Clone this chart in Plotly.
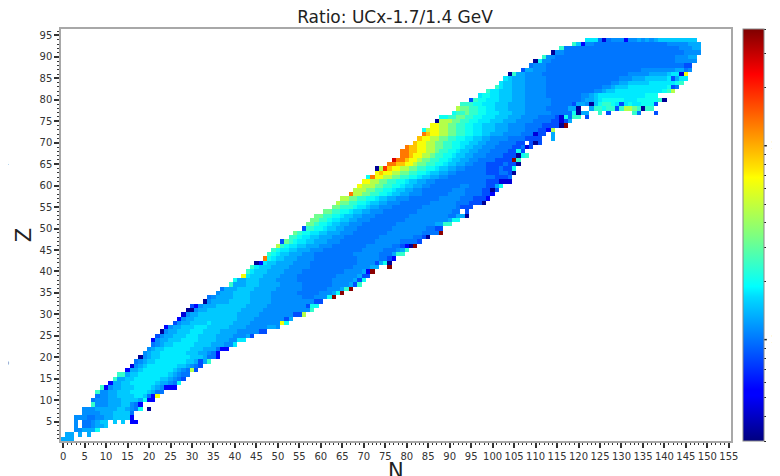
import math
import numpy as np
import plotly.graph_objects as go

TITLE = "Ratio: UCx-1.7/1.4 GeV"
X_LABEL = "N"
Y_LABEL = "Z"
N_COUNT = 156
Z_COUNT = 96
COLOR_MIN = 0.3
COLOR_MAX = 40.0
COLORBAR_LABELED = {1: "10\u2070", 10: "10\u00b9"}
COLORBAR_UNLABELED = [0.3, 0.4, 0.5, 0.6, 0.7, 0.8, 0.9, 2, 3, 4, 5, 6, 7, 8, 9, 20, 30, 40]

# One character per cell: key into LEVEL_KEYS, blank = no data.
LEVEL_KEYS = "0123456789abcdefghi"
LEVEL_RATIOS = [0.33, 0.44, 0.56, 0.82, 1.0, 1.13, 1.3, 1.52, 1.75, 2.0, 2.4,
                3.2, 4.6, 6.6, 9.0, 13.0, 18.5, 27.0, 38.0]

# First N of each row, Z = 1, 2, 3 ...
ROW_START = [0, 1, 3, 3, 3, 3, 5, 5, 7, 7, 8, 8, 9, 11, 12, 13, 15, 16, 17, 18, 19, 20, 21, 21,
             22, 23, 24, 26, 27, 28, 29, 30, 33, 34, 36, 37, 39, 40, 42, 43, 44, 45, 47, 48, 49, 50,
             51, 53, 54, 56, 57, 58, 59, 61, 63, 64, 65, 67, 68, 69, 70, 71, 73, 73, 76, 77, 79, 79,
             80, 82, 83, 84, 84, 86, 87, 88, 91, 92, 93, 95, 97, 99, 101, 102, 103, 104, 107, 109,
             110, 112, 114, 116, 119, 122]

ROW_CELLS = [
    "666",
    "66 6 6",
    "556669",
    "5 445667",
    "5 445677 7 7 22",
    "55544556677772",
    "555566677774",
    "5556666677654" + "9 0",
    "a55566677542",
    "455566677776922",
    "45566777788742d",
    "a556677788887644",
    "a25667778888765222",
    "26677888888766549",
    "a6677888888776543",
    "aa677888888876544",
    "26678888888765" + "4c3",
    "15678888888776543",
    "45677888888877636aa"[:18],
    "0567788888887776442",
    "567788888877766542",
    "5677888888777666422",
    "45677888887777666558",
    "2566777888877776665588",
    "35667778887777666655563",
    "0566777888777766665555533",
    "256677788877777666655555665",
    "3566777787777766665555555d9",
    "256677777777776666555555536",
    "15667777777776666655555555" + "33c",
    "00566777777776666655555555555a",
    "325666777777766666555555555399",
    "0566667777766666555555555533",
    "45666677776666655555554445559i",
    "56667777666665555554444455569i",
    "46667777666665555554444445556ai",
    "a66677766666555554444444555563a",
    "9667776666555554444444455555639",
    "d87776666555544444444455555633",
    "a87776666555544444444445555" + "62i",
    "a87776666555554444444444555566" + "  i",
    "02877666655554444444444455553690",
    "f987766655554444444444555554432",
    "a98776665554444444445555554446aa",
    "a98877666555444444444" + "55555" + "444" + "56a",
    "ca988776665554444444455555544320i",
    "3ba988776665554444444455555544443",
    "aa9887766655544444444555555554430",
    "ba99887766655544444444555555554444i",
    "3aa99877665554444444455555555 4433".replace(" ", ""),
    "bba99877665554444444455555555566aa"[:34],
    "bbaa9887766555444444445555555555699",
    "bbaa99877665554444444455555555544660",
    "bbaa99877665554444444455555555" + "44 3",
    "bbaaa98876655544444445555555" + "54333",
    "cbbaa998776655544444445555554443330",
    "ccbbaa99877665554444444555554443332",
    "fccbbaa998776655544444455554444332",
    "cccbbaa998776655444444455544443303",
    "dcccbbaa998776655444444455444433 69".replace(" ", ""),
    "ddccbbaa998776655444444444444333111",
    "9fddccbbaa998776655444444444443334",
    "dedd" + "ccbbaa9987766" + "55" + "4444444" + "333" + "44" + "30",
    "0cgedd" + "ccbbaa9987766"[:13] + "55" + "44444" + "333" + "4" + "33" + "9",
    "ffeeddcbbaa9987766" + "55" + "444" + "3333" + "4" + "33" + "0",
    "hffeddcbbaa9987766" + "55" + "4444" + "3333" + "ia",
    "ffeddccbaa9987766" + "555" + "4444" + "333" + "09a",
    "ffeeddccbaa9987766" + "555" + "4444" + "33" + "93",
    "feeddccbbaa9987766" + "555" + "4444" + "33" + "413",
    "eddccbbaa99887766" + "555" + "4444" + "33" + " 303",
    "eddccbbaa99887766" + "5555" + "4444" + "3333" + "  6",
    "feddccbbaa99887766" + "6" + "5555" + "444" + "133" + " 6",
    "9cddccbbaa9988777666" + "5555" + "444" + "33" + "2c",
    "ddccbbaa9988777666" + "5555" + "4444" + "3333" + "0i",
    "0cccbbaa99888777666" + "5555" + "4444" + "33" + "136",
    "99aabbaa998887776665555" + "4444" + "319" + "4aa 3",
    "9aabaa998887776665" + "55555" + "44444" + "9" + "066  a 3     a4   3",
    "cbbaa99887776666" + "55555" + "44444" + "660" + "  " + "6aa9aa3accba0aa",
    "aaa998887776666" + "555555" + "44444" + "36650" + "79aa98389889993",
    "3a998887776665" + "55555" + "4444444" + "566789999988899999a0",
    "89988777666" + "55555" + "4444444" + "4556788888888888999"[:19],
    "a8877766655555" + "444444444" + "445567788888888888" + "9ac",
    "a8776665555544444444444" + "445567778888888889" + "34",
    "87766655555" + "44444444444" + "44445566777778888889a",
    "8766655555" + "444444444444" + "444445556667777783688",
    "0a665555" + "444444444444444" + "444445555566667881d",
    "366555" + "4444444444444444" + "444444555555556645",
    "4555" + "444444444444444444" + "4444444444444433",
    "09554444444444444444444444444444455555",
    "a55444444444444444444444444444455566",
    "0554444444444444444444444444444555566"[:35],
    "a44444444444444444444444444455566"[:33],
    "a72554444444444444444455555666",
    "88841455525565656" + "777777777",
]

keys = {k: r for k, r in zip(LEVEL_KEYS, LEVEL_RATIOS)}
grid = np.full((Z_COUNT, N_COUNT), np.nan)
for row, (first, cells) in enumerate(zip(ROW_START, ROW_CELLS)):
    for offset, ch in enumerate(cells):
        if ch != " ":
            grid[row, first + offset] = math.log10(keys[ch])

JET = [[0.0, "#00007f"], [0.11, "#0000ff"], [0.125, "#0000ff"], [0.35, "#00dbff"], [0.375, "#00ffff"],
       [0.5, "#7fff7f"], [0.64, "#ffff00"], [0.66, "#ffe600"], [0.89, "#ff0000"], [0.91, "#e80000"], [1.0, "#7f0000"]]

zmin, zmax = math.log10(COLOR_MIN), math.log10(COLOR_MAX)
tickvals = [math.log10(v) for v in COLORBAR_UNLABELED] + [math.log10(float(v)) for v in COLORBAR_LABELED]
ticktext = [""] * len(tickvals)

fig = go.Figure(go.Heatmap(
    x=list(range(N_COUNT)), y=list(range(1, Z_COUNT + 1)), z=grid,
    colorscale=JET, zmin=zmin, zmax=zmax, hoverongaps=False,
    colorbar=dict(x=1.018, xanchor="left", xpad=0, ypad=0, y=0.5, len=1, lenmode="fraction",
                  thickness=21, outlinecolor="#888", outlinewidth=1,
                  tickmode="array", tickvals=tickvals, ticktext=ticktext,
                  ticks="outside", ticklen=2, tickcolor="#222", tickwidth=1,
                  tickfont=dict(family="DejaVu Sans", size=10, color="#333")),
))

colorbar_notes = []
for v, label in COLORBAR_LABELED.items():
    ypos = (math.log10(v) - zmin) / (zmax - zmin)
    fig.add_shape(type="line", xref="paper", yref="paper", x0=1.0478, x1=1.0535, y0=ypos, y1=ypos,
                  line=dict(color="#222", width=1.5))
    colorbar_notes.append(dict(text=label, xref="paper", yref="paper", x=(772 - 61) / 670, y=ypos,
                               xanchor="left", yanchor="middle", xshift=-3, showarrow=False,
                               font=dict(family="DejaVu Sans", size=10, color="#333")))

axis_common = dict(
    showgrid=False, zeroline=False, showline=True, mirror=True, linecolor="#a8a8a8", linewidth=1.5,
    ticks="outside", ticklen=5, tickwidth=1.5, tickcolor="#333", tick0=0, dtick=5,
    tickfont=dict(family="DejaVu Sans", size=10, color="#333"),
    minor=dict(ticks="outside", ticklen=2.5, tickwidth=1, tickcolor="#333", tick0=0, dtick=1, showgrid=False),
)

# The page adds an 8 px body margin: the figure is 8 px smaller so the page does not scroll.
fig.update_layout(
    width=772, height=468, autosize=False,
    margin=dict(l=53, r=49, t=21, b=35, autoexpand=False),
    paper_bgcolor="white", plot_bgcolor="white",
    font=dict(family="DejaVu Sans", color="#333"),
    title=dict(text=TITLE, x=387 / 772, xanchor="center", y=1 - 9 / 468, yanchor="middle",
               font=dict(family="DejaVu Sans", size=17, color="#222")),
    xaxis=dict(range=[-0.5, 155.5], **axis_common),
    yaxis=dict(range=[0.5, 96.5], title=dict(text=Y_LABEL, standoff=2,
               font=dict(family="DejaVu Sans", size=21, color="#222")), **axis_common),
    annotations=[
        dict(text=X_LABEL, xref="paper", yref="paper", x=0.5, y=-30 / 412, yanchor="middle", showarrow=False,
             font=dict(family="DejaVu Sans", size=21, color="#222")),
        dict(text="\u00b9", xref="paper", yref="paper", x=-0.087, y=0.687, showarrow=False,
             font=dict(size=10, color="#666")),
        dict(text="\u2070", xref="paper", yref="paper", x=-0.087, y=0.165, showarrow=False,
             font=dict(size=10, color="#666")),
    ] + colorbar_notes,
)

fig.write_html("out.html")
